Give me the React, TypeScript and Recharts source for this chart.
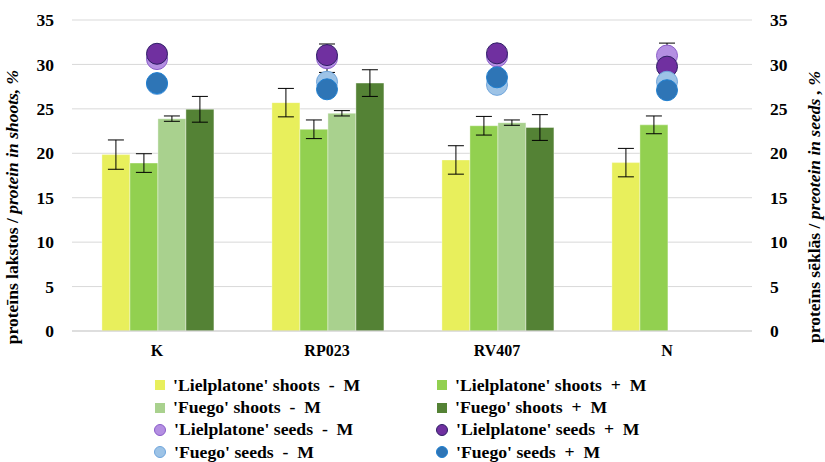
import React from 'react';
import {
  ComposedChart,
  Bar,
  Scatter,
  XAxis,
  YAxis,
  CartesianGrid,
  ErrorBar,
  Legend,
  Label,
} from 'recharts';

const FONT = 'Liberation Serif';

// groups on the x axis
const categories = ['K', 'RP023', 'RV407', 'N'];

// protein in shoots, %
const lielShootsMinus = [19.85, 25.7, 19.25, 18.95];
const lielShootsMinusErr = [1.65, 1.6, 1.6, 1.6];
const lielShootsPlus = [18.9, 22.7, 23.1, 23.2];
const lielShootsPlusErr = [1.05, 1.05, 1.05, 1.0];
const fuegoShootsMinus = [23.9, 24.5, 23.45, null];
const fuegoShootsMinusErr = [0.3, 0.3, 0.3, null];
const fuegoShootsPlus = [24.95, 27.9, 22.9, null];
const fuegoShootsPlusErr = [1.45, 1.5, 1.45, null];

// protein in seeds, %
const lielSeedsMinus = [30.6, 30.7, 30.9, 31.0];
const lielSeedsMinusErr = [0.5, 1.6, 0.4, 1.4];
const lielSeedsPlus = [31.2, 31.05, 31.25, 29.75];
const lielSeedsPlusErr = [0.4, 0.5, 0.4, 0.4];
const fuegoSeedsMinus = [27.8, 28.05, 27.7, 28.05];
const fuegoSeedsMinusErr = [0.4, 0.4, 0.4, 0.4];
const fuegoSeedsPlus = [27.9, 27.2, 28.55, 27.1];
const fuegoSeedsPlusErr = [0.4, 0.4, 0.4, 0.4];

const yTicks = [0, 5, 10, 15, 20, 25, 30, 35];

const seriesNames = [
  "'Lielplatone' shoots  -  M",
  "'Lielplatone' shoots  +  M",
  "'Fuego' shoots  -  M",
  "'Fuego' shoots  +  M",
  "'Lielplatone' seeds  -  M",
  "'Lielplatone' seeds  +  M",
  "'Fuego' seeds  -  M",
  "'Fuego' seeds  +  M",
];

const barColors = ['#e8ef5c', '#92d050', '#a9d18e', '#548235'];
const dotFills = ['#b48fe2', '#7030a0', '#9dc3e6', '#2e75b6'];
const dotStrokes = ['#8a5cc9', '#2f1f66', '#6fa5dc', '#1f7fd0'];

const data = categories.map((name, i) => ({
  name,
  lsm: lielShootsMinus[i],
  lsmErr: lielShootsMinusErr[i],
  lsp: lielShootsPlus[i],
  lspErr: lielShootsPlusErr[i],
  fsm: fuegoShootsMinus[i],
  fsmErr: fuegoShootsMinusErr[i],
  fsp: fuegoShootsPlus[i],
  fspErr: fuegoShootsPlusErr[i],
  ldm: lielSeedsMinus[i],
  ldmErr: lielSeedsMinusErr[i],
  ldp: lielSeedsPlus[i],
  ldpErr: lielSeedsPlusErr[i],
  fdm: fuegoSeedsMinus[i],
  fdmErr: fuegoSeedsMinusErr[i],
  fdp: fuegoSeedsPlus[i],
  fdpErr: fuegoSeedsPlusErr[i],
}));

const barKeys = ['lsm', 'lsp', 'fsm', 'fsp'];
const dotKeys = ['ldm', 'ldp', 'fdm', 'fdp'];

const xTickStyle = { fontFamily: FONT, fontSize: 16, fontWeight: 700, fill: '#000' };
const yTickStyle = { fontFamily: FONT, fontSize: 17.5, fontWeight: 700, fill: '#000' };

function dotShape(fill: string, stroke: string) {
  return (p: any) => (
    <circle cx={p.cx} cy={p.cy} r={10.5} fill={fill} stroke={stroke} strokeWidth={1} />
  );
}

function SideLabel({ x, y, plain, italic }: { x: number; y: number; plain: string; italic: string }) {
  return (
    <text
      transform={`translate(${x},${y}) rotate(-90)`}
      textAnchor="middle"
      fontFamily={FONT}
      fontSize={17.5}
      fontWeight={700}
      fill="#000"
      style={{ whiteSpace: 'pre' }}
    >
      <tspan>{plain}</tspan>
      <tspan fontStyle="italic">{italic}</tspan>
    </text>
  );
}

function LegendBox() {
  const rows = [0, 2, 4, 6];
  const item = (idx: number) => {
    const isDot = idx >= 4;
    const c = isDot ? idx - 4 : idx;
    return (
      <div key={idx} style={{ display: 'flex', alignItems: 'center', height: 22.4 }}>
        {isDot ? (
          <span
            style={{
              width: 10,
              height: 10,
              borderRadius: '50%',
              background: dotFills[c],
              border: `1px solid ${dotStrokes[c]}`,
              marginRight: 8,
              marginLeft: -1,
            }}
          />
        ) : (
          <span style={{ width: 10, height: 10, background: barColors[c], marginRight: 8 }} />
        )}
        <span style={{ whiteSpace: 'pre' }}>{seriesNames[idx]}</span>
      </div>
    );
  };
  return (
    <div
      style={{
        fontFamily: FONT,
        fontSize: 17.7,
        fontWeight: 700,
        color: '#000',
        display: 'grid',
        gridTemplateColumns: '282px 282px',
      }}
    >
      {rows.map((r) => [item(r), item(r + 1)])}
    </div>
  );
}

export default function App() {
  return (
    <div style={{ position: 'absolute', left: 0, top: 0, background: '#fff', fontFamily: FONT }}>
      <ComposedChart
        width={825}
        height={462}
        data={data}
        margin={{ top: 20, right: 0, bottom: 101, left: 0 }}
        barCategoryGap="17.6%"
        barGap={0}
      >
        <CartesianGrid vertical={false} stroke="#d9d9d9" strokeWidth={1} yAxisId="left" />
        <XAxis
          dataKey="name"
          height={30}
          tick={xTickStyle}
          tickLine={false}
          tickSize={0}
          tickMargin={14}
          axisLine={{ stroke: '#d0d0d0' }}
        />
        <YAxis
          yAxisId="left"
          width={72}
          domain={[0, 35]}
          ticks={yTicks}
          tick={yTickStyle}
          tickLine={false}
          axisLine={false}
          tickSize={0}
          tickMargin={18}
        >
          <Label
            content={(props: any) => (
              <SideLabel
                x={(props.viewBox?.x ?? 0) + 18}
                y={207}
                plain="proteīns lakstos / "
                italic="protein in shoots, %"
              />
            )}
          />
        </YAxis>
        <YAxis
          yAxisId="right"
          orientation="right"
          width={73}
          domain={[0, 35]}
          ticks={yTicks}
          tick={{ ...yTickStyle, textAnchor: 'start' }}
          tickLine={false}
          axisLine={false}
          tickSize={0}
          tickMargin={18}
        >
          <Label
            content={(props: any) => (
              <SideLabel
                x={(props.viewBox?.x ?? 752) + 68}
                y={207}
                plain="proteīns sēklās / "
                italic="preotein in seeds , %"
              />
            )}
          />
        </YAxis>
        {barKeys.map((k, i) => (
          <Bar
            key={k}
            yAxisId="left"
            dataKey={k}
            name={seriesNames[i]}
            fill={barColors[i]}
            stroke="#ffffff"
            strokeOpacity={0.5}
            strokeWidth={0.75}
            isAnimationActive={false}
          >
            <ErrorBar dataKey={`${k}Err`} width={8} stroke="#000" strokeWidth={1} direction="y" />
          </Bar>
        ))}
        {dotKeys.map((k, i) => (
          <Scatter
            key={k}
            yAxisId="right"
            dataKey={k}
            name={seriesNames[i + 4]}
            fill={dotFills[i]}
            shape={dotShape(dotFills[i], dotStrokes[i])}
            isAnimationActive={false}
          >
            <ErrorBar dataKey={`${k}Err`} width={8} stroke="#000" strokeWidth={1} direction="y" />
          </Scatter>
        ))}
        <Legend
          layout="horizontal"
          verticalAlign="middle"
          align="center"
          content={() => <LegendBox />}
          wrapperStyle={{ top: 374, left: 155, width: 580, height: 90 }}
        />
      </ComposedChart>
    </div>
  );
}
